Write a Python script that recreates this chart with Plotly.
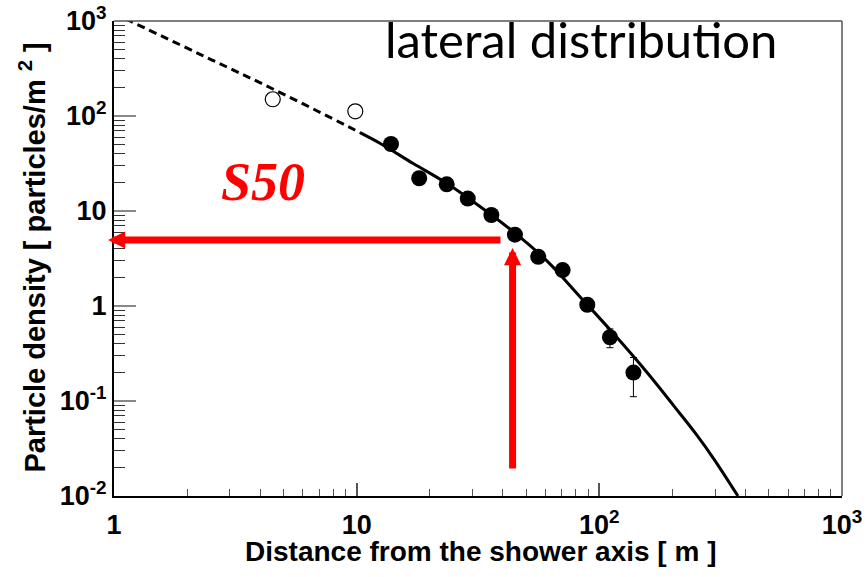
import math
import plotly.graph_objects as go

# Measured particle densities used in the fit (distance [m], density [particles/m^2])
dist_m = [13.85, 18.1, 23.5, 28.7, 35.9, 44.9, 56.0, 70.6, 89.2, 110.6, 138.2]
density = [50.7, 22.1, 19.1, 13.5, 9.08, 5.63, 3.30, 2.39, 1.03, 0.469, 0.199]
density_err = [3.5, 1.6, 1.4, 1.0, 0.7, 0.45, 0.3, 0.25, 0.15, 0.105, 0.088]

# Detectors close to the core, excluded from the fit
near_dist_m = [4.51, 9.87]
near_density = [150.0, 112.0]

# Lateral distribution function: extrapolated part (dashed) and fitted range (solid)
ldf_extrap_r = [1.0, 1.164, 2.262, 4.52, 9.84, 10.32]
ldf_extrap_rho = [1202, 1000, 446.0, 192.4, 71.2, 66.7]
ldf_fit_r = [10.32, 12.47, 17.11, 23.49, 32.21, 44.18, 60.66, 83.19, 114.1,
             156.7, 214.8, 250.0, 294.7, 372.5]
ldf_fit_rho = [66.7, 51.6, 31.6, 19.57, 11.15, 6.055, 3.00, 1.253, 0.516,
               0.2019, 0.0738, 0.0450, 0.0251, 0.0100]

# S50 read-off arrows: vertical from the distance axis, horizontal to the density axis
s50_r = 43.9
s50_vert_from, s50_vert_tip = 0.0188, 4.08
s50_rho = 4.95
s50_horiz_from, s50_horiz_tip = 39.7, 0.945

# Axis ticks
x_tick_vals = [1, 10, 100, 1000]
x_tick_text = ["1", "10", "10<sup>2</sup>", "10<sup>3</sup>"]
y_tick_vals = [0.01, 0.1, 1, 10, 100, 1000]
y_tick_text = ["10<sup>-2</sup>", "10<sup>-1</sup>", "1", "10", "10<sup>2</sup>", "10<sup>3</sup>"]
x_minor = [k * 10 ** e for e in range(0, 3) for k in range(2, 10)]
y_minor = [k * 10.0 ** e for e in range(-2, 3) for k in range(2, 10)]

RED = "#ff0000"
SANS = "Liberation Sans, Arial, sans-serif"

fig = go.Figure()

fig.add_trace(go.Scatter(
    x=ldf_extrap_r, y=ldf_extrap_rho, mode="lines",
    line=dict(color="black", width=3, dash="8px,5px", shape="spline"),
))
fig.add_trace(go.Scatter(
    x=ldf_fit_r, y=ldf_fit_rho, mode="lines",
    line=dict(color="black", width=3, shape="spline"),
))
fig.add_trace(go.Scatter(
    x=near_dist_m, y=near_density, mode="markers",
    marker=dict(symbol="circle-open", size=15, color="black", line=dict(width=1.2)),
))
fig.add_trace(go.Scatter(
    x=dist_m, y=density, mode="markers",
    marker=dict(symbol="circle", size=16, color="black"),
    error_y=dict(type="data", array=density_err, color="black", thickness=1, width=3.5),
))

# S50 arrows (annotation positions on log axes are given as log10 values)
arrow_style = dict(showarrow=True, text="", arrowhead=2, arrowsize=0.49,
                   arrowwidth=7, arrowcolor=RED, axref="x", ayref="y",
                   xref="x", yref="y")
fig.add_annotation(
    x=math.log10(s50_horiz_tip), y=math.log10(s50_rho),
    ax=math.log10(s50_horiz_from), ay=math.log10(s50_rho), **arrow_style,
)
fig.add_annotation(
    x=math.log10(s50_r), y=math.log10(s50_vert_tip),
    ax=math.log10(s50_r), ay=math.log10(s50_vert_from), **arrow_style,
)

tickfont = dict(family=SANS, size=27, color="black", weight="bold")

fig.update_xaxes(
    type="log", range=[0, 3], showgrid=False, zeroline=False, automargin=False,
    showline=True, linecolor="black", linewidth=2,
    ticks="inside", ticklen=13, tickwidth=1.5, tickcolor="#555",
    tickvals=x_tick_vals, ticktext=x_tick_text, tickfont=tickfont,
    ticklabelstandoff=4,
    minor=dict(ticks="inside", ticklen=7, tickwidth=1.2, tickcolor="#555", tickvals=x_minor),
)
fig.update_yaxes(
    type="log", range=[-2, 3], showgrid=False, zeroline=False, automargin=False,
    showline=True, linecolor="black", linewidth=2,
    ticks="inside", ticklen=22, tickwidth=2, tickcolor="#888",
    tickvals=y_tick_vals, ticktext=y_tick_text, tickfont=tickfont,
    ticklabelstandoff=0,
    minor=dict(ticks="inside", ticklen=11, tickwidth=1.3, tickcolor="#333", tickvals=y_minor),
)

# Frame on the top and right sides
frame = dict(color="#555", width=1.5)
fig.add_shape(type="line", xref="paper", yref="paper", x0=0, x1=1, y0=1, y1=1, line=frame)
fig.add_shape(type="line", xref="paper", yref="paper", x0=1, x1=1, y0=0, y1=1, line=frame)

fig.add_annotation(
    text="Distance from the shower axis [ m ]", xref="paper", yref="paper",
    x=0.503, y=-0.117, xanchor="center", yanchor="middle", showarrow=False,
    font=dict(family=SANS, size=28, color="black", weight="bold"),
)
fig.add_annotation(
    text="Particle density [ particles/m <sup>2</sup> ]", xref="paper", yref="paper",
    x=-0.1126, y=0.502, xanchor="center", yanchor="middle", showarrow=False,
    textangle=-90,
    font=dict(family=SANS, size=29, color="black", weight="bold"),
)
fig.add_annotation(
    text="lateral distribution", xref="paper", yref="paper",
    x=0.642, y=0.963, xanchor="center", yanchor="middle", showarrow=False,
    font=dict(family="Lato, sans-serif", size=49, color="black"),
)
fig.add_annotation(
    text="S50", xref="paper", yref="paper",
    x=0.204, y=0.661, xanchor="center", yanchor="middle", showarrow=False,
    font=dict(family="Liberation Serif, serif", size=54, color=RED, weight="bold", style="italic"),
)

fig.update_layout(
    width=866, height=577, showlegend=False,
    margin=dict(l=114, r=24, t=21, b=81),
    paper_bgcolor="white", plot_bgcolor="white",
)

fig.write_html("out.html")
